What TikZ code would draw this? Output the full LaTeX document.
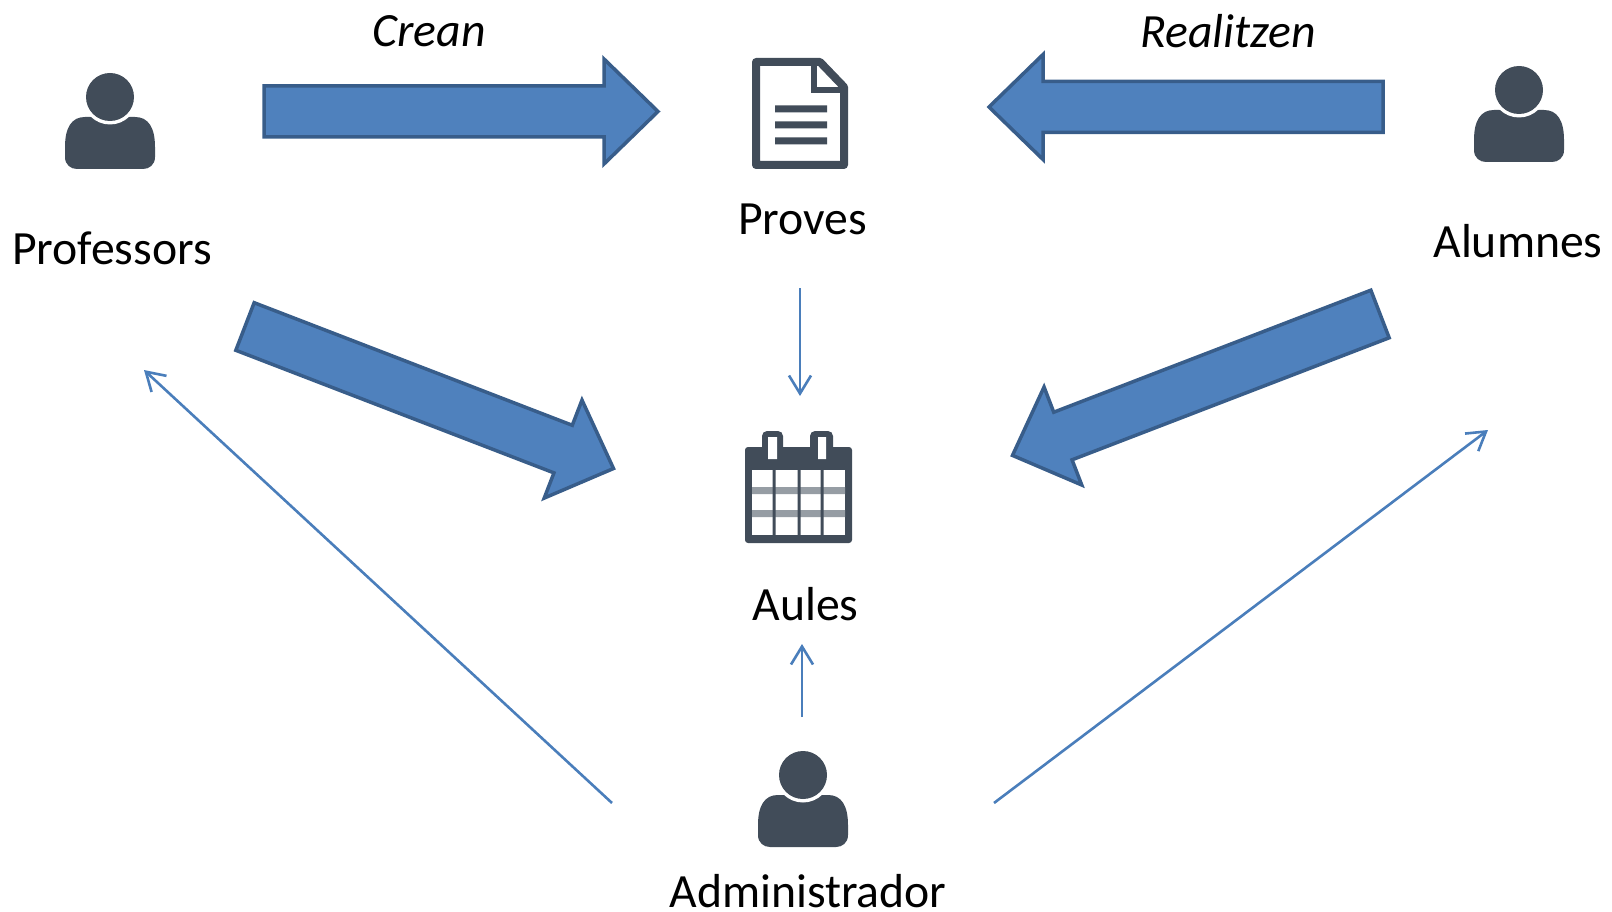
\documentclass[tikz,border=0pt]{standalone}
\usepackage{fontspec}
\setmainfont{Carlito}
\usetikzlibrary{arrows.meta,calc}
\definecolor{icon}{HTML}{414C59}
\definecolor{bigfill}{HTML}{4F81BD}
\definecolor{bigline}{HTML}{385D8A}
\definecolor{thinline}{HTML}{4A7EBB}
\newcommand{\bigarrow}[2]{%
  \coordinate (h) at ($(#2)!54pt!(#1)$);
  \draw[bigshape]
    ($(#1)!25.5pt!90:(#2)$) -- ($(h)!25.5pt!90:(#2)$) -- ($(h)!52.5pt!90:(#2)$) -- (#2)
    -- ($(h)!52.5pt!-90:(#2)$) -- ($(h)!25.5pt!-90:(#2)$) -- ($(#1)!25.5pt!-90:(#2)$) -- cycle;}
\tikzset{
  x=1pt,y=-1pt,
  label text/.style={inner sep=0pt,anchor=base,text=black,font=\fontsize{47.7}{50}\selectfont},
  verb text/.style={label text,font=\fontsize{47.7}{50}\selectfont\itshape},
  bigshape/.style={fill=bigfill,draw=bigline,line width=3.5pt,line join=miter},
  thinarrow/.style={draw=thinline,line width=2.6pt,-{Straight Barb[length=18pt,width=22pt,line width=2.6pt]}},
  person/.pic={
    \fill[icon] (-45,50) .. controls (-45,30) and (-38,20) .. (-25,20) -- (25,20)
      .. controls (38,20) and (45,30) .. (45,50) -- (45,60)
      .. controls (45,68) and (39,72) .. (33,72) -- (-33,72)
      .. controls (-39,72) and (-45,68) .. (-45,60) -- cycle;
    \fill[white] (0,0) circle (27.5);
    \fill[icon] (0,0) circle (24);
  }
}
\begin{document}
\begin{tikzpicture}
\useasboundingbox (0,0) rectangle (1612,912);
% people
\pic at (110,97) {person};
\pic at (1519,90) {person};
\pic at (803,775) {person};
% labels
\node[label text] (prof) at (112,265) {Professors};
\node[label text] (alum) at (1518,258) {Alumnes};
\node[label text] (prov) at (802.5,235) {Proves};
\node[label text] (aule) at (805.5,620) {Aules};
\node[label text] (admi) at (808,907) {Administrador};
\node[verb text] (crean) at (429,46.5) {Crean};
\node[verb text] (real) at (1228,47.5) {Realitzen};
% document icon
\draw[icon,line width=8pt,line join=round,fill=white] (756,62) -- (820,62) -- (844,87) -- (844,165) -- (756,165) -- cycle;
\draw[icon,line width=6.5pt] (814,62) -- (814,90) -- (844,90);
\fill[icon] (775,105.5) rectangle (827,112.5) (775,121.5) rectangle (827,128.5) (775,137.5) rectangle (827,144.5);
% calendar icon
\fill[icon,rounded corners=3pt] (745,447) rectangle (852,543);
\fill[icon,rounded corners=5pt] (762,431) rectangle (783,462);
\fill[icon,rounded corners=5pt] (810,431) rectangle (833,462);
\fill[white] (768,437) rectangle (777,459) (818,437) rectangle (826,459);
\fill[white] (752,470) rectangle (845,535);
\fill[icon!55!white] (752,487) rectangle (845,494) (752,510) rectangle (845,517);
\fill[icon] (772.5,470) rectangle (775.5,535) (797.5,470) rectangle (800.5,535) (820.5,470) rectangle (823.5,535);
% thick arrows
\coordinate (ca) at (264,111.5); \coordinate (cb) at (658,111.5);
\coordinate (ra) at (1383,107); \coordinate (rb) at (989,107);
\coordinate (pa) at (245,326.5); \coordinate (pb) at (613.5,468.5);
\coordinate (aa) at (1380,314); \coordinate (ab) at (1012.5,455.4);
\bigarrow{ca}{cb}
\bigarrow{ra}{rb}
\bigarrow{pa}{pb}
\bigarrow{aa}{ab}
% thin arrows
\coordinate (t1a) at (800,288); \coordinate (t1b) at (800,396);
\coordinate (t2a) at (802,717); \coordinate (t2b) at (802,644);
\coordinate (t3a) at (612,803); \coordinate (t3b) at (144,370);
\coordinate (t4a) at (994,803); \coordinate (t4b) at (1488,430);
\draw[thinarrow] (t1a) -- (t1b);
\draw[thinarrow] (t2a) -- (t2b);
\draw[thinarrow] (t3a) -- (t3b);
\draw[thinarrow] (t4a) -- (t4b);
\end{tikzpicture}
\end{document}
